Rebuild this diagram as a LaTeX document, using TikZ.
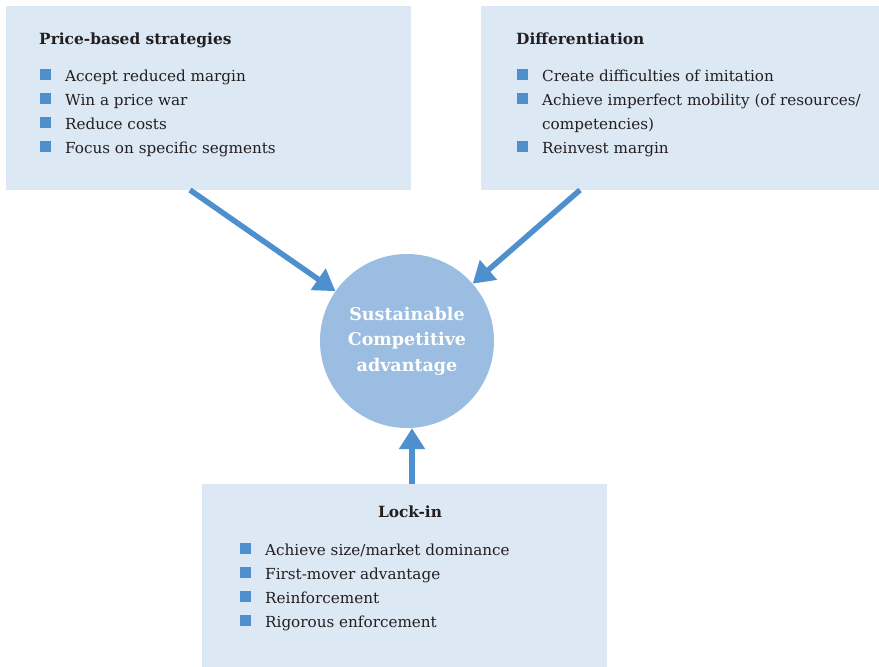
\documentclass[tikz,border=0pt]{standalone}
\usepackage{fontspec}
\setmainfont{DejaVu Serif}
\usetikzlibrary{arrows.meta,positioning}

\definecolor{panelblue}{HTML}{DCE8F4}
\definecolor{hubblue}{HTML}{9ABDE1}
\definecolor{linkblue}{HTML}{4E8FCD}
\definecolor{inkgray}{HTML}{231F20}

\newcommand{\sqbul}{\makebox[25pt][l]{\textcolor{linkblue}{\rule[1pt]{11pt}{11pt}}}}
\newcommand{\sqgap}{\hspace*{25pt}}

\begin{document}
\begin{tikzpicture}[
  x=1pt, y=-1pt,
  panel/.style={fill=panelblue, draw=none, anchor=north west, inner sep=0pt},
  heading/.style={font=\fontsize{15.4}{20}\selectfont\bfseries, text=inkgray, inner sep=0pt},
  points/.style={font=\fontsize{15.2}{24}\selectfont, text=inkgray, align=left, anchor=north west, inner sep=0pt},
  hub/.style={circle, fill=hubblue, minimum size=174pt, inner sep=0pt, align=center, text=white,
    font=\fontsize{17.5}{25.5}\selectfont\bfseries},
  link/.style={draw=linkblue, line width=5.5pt, -{Triangle[length=21pt, width=25pt]}}
]
\useasboundingbox (0,0) rectangle (879,667);

% Three panels
\node[panel, minimum width=405pt, minimum height=184pt] (price) at (6,6) {};
\node[panel, minimum width=398pt, minimum height=184pt] (diff) at (481,6) {};
\node[panel, minimum width=405pt, minimum height=183pt] (lock) at (202,484) {};

% Panel headings
\node[heading, anchor=base west] (pricetitle) at (39,44) {Price-based strategies};
\node[heading, anchor=base west] (difftitle) at (516,44) {Differentiation};
\node[heading, anchor=base] (locktitle) at (410,517) {Lock-in};

% Bullet lists
\node[points] (pricelist) at (40,69) {\sqbul Accept reduced margin\\ \sqbul Win a price war\\ \sqbul Reduce costs\\ \sqbul Focus on specific segments};
\node[points] (difflist) at (517,69) {\sqbul Create difficulties of imitation\\ \sqbul Achieve imperfect mobility (of resources/\\ \sqgap competencies)\\ \sqbul Reinvest margin};
\node[points] (locklist) at (240,543) {\sqbul Achieve size/market dominance\\ \sqbul First-mover advantage\\ \sqbul Reinforcement\\ \sqbul Rigorous enforcement};

% Centre
\node[hub] (sca) at (407,341) {Sustainable\\Competitive\\advantage};

% Arrow feet on panel edges
\coordinate (pricefoot) at (190,190);
\coordinate (difffoot) at (580,190);
\coordinate (lockfoot) at (412,484);

\draw[link] (pricefoot) -- (sca);
\draw[link] (difffoot) -- (sca);
\draw[link] (lockfoot) -- (lockfoot |- sca.south);

\end{tikzpicture}
\end{document}
